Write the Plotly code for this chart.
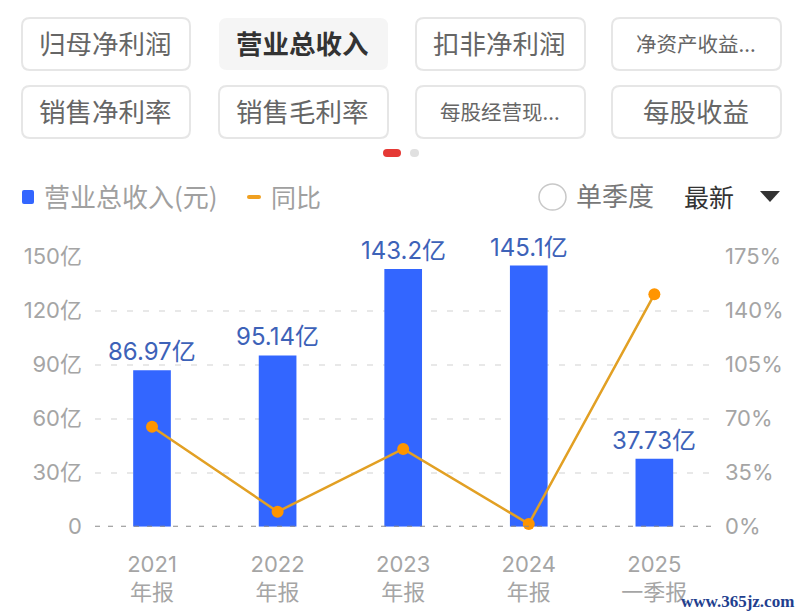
import plotly.graph_objects as pgo

# Data
years = ["2021", "2022", "2023", "2024", "2025"]
periods = ["年报", "年报", "年报", "年报", "一季报"]
revenue = [86.97, 95.14, 143.2, 145.1, 37.73]
revenue_labels = ["86.97亿", "95.14亿", "143.2亿", "145.1亿", "37.73亿"]
yoy = [64.8, 9.7, 50.4, 1.8, 150.6]
left_ticks = [0, 30, 60, 90, 120, 150]
left_labels = ["0", "30亿", "60亿", "90亿", "120亿", "150亿"]
right_ticks = [0, 35, 70, 105, 140, 175]
right_labels = ["0%", "35%", "70%", "105%", "140%", "175%"]

buttons_row1 = ["归母净利润", "营业总收入", "扣非净利润", "净资产收益..."]
buttons_row2 = ["销售净利率", "销售毛利率", "每股经营现...", "每股收益"]

W, H = 803, 616
FONT = "Inter, 'Noto Sans CJK SC', sans-serif"
CJK = "'Noto Sans CJK SC', sans-serif"


def px(x):
    return x / W


def py(y):
    return 1 - y / H


def round_rect(x0, y0, x1, y1, r, **kw):
    a0, a1, b0, b1 = px(x0), px(x1), py(y0), py(y1)
    rx, ry = r / W, r / H
    path = (f"M{a0 + rx},{b0} L{a1 - rx},{b0} Q{a1},{b0} {a1},{b0 - ry} "
            f"L{a1},{b1 + ry} Q{a1},{b1} {a1 - rx},{b1} "
            f"L{a0 + rx},{b1} Q{a0},{b1} {a0},{b1 + ry} "
            f"L{a0},{b0 - ry} Q{a0},{b0} {a0 + rx},{b0} Z")
    return dict(type="path", xref="paper", yref="paper", path=path, **kw)


def label(x, y, text, size, color, anchor="center", family=CJK, bold=False):
    if bold:
        text = f"<b>{text}</b>"
    return dict(xref="paper", yref="paper", x=px(x), y=py(y), text=text, showarrow=False,
                xanchor=anchor, yanchor="middle", font=dict(size=size, color=color, family=family))


fig = pgo.Figure()

fig.add_trace(pgo.Bar(x=years, y=revenue, width=0.3, marker=dict(color="#3366ff", line_width=0),
                      yaxis="y", hoverinfo="skip"))
fig.add_trace(pgo.Scatter(x=years, y=yoy, mode="lines+markers", yaxis="y2", cliponaxis=False,
                          line=dict(color="#e2a024", width=2.5),
                          marker=dict(color="#ff9500", size=12), hoverinfo="skip"))

shapes = []
annotations = []

# Top buttons
columns = [(22, 190), (219, 388), (416, 585), (612, 781)]
rows = [(18, 70, buttons_row1), (86, 138, buttons_row2)]
for y0, y1, names in rows:
    for (x0, x1), name in zip(columns, names):
        active = name == "营业总收入"
        if active:
            shapes.append(round_rect(x0, y0, x1, y1, 8, fillcolor="#f5f5f5", line=dict(width=0)))
        else:
            shapes.append(round_rect(x0, y0, x1, y1, 8, fillcolor="#ffffff",
                                     line=dict(color="#e6e6e6", width=2)))
        size = 20.5 if name.endswith("...") else 26.5
        annotations.append(label((x0 + x1) / 2 - 1, (y0 + y1) / 2 - 1.5, name, size,
                                 "#333333" if active else "#666666", bold=active))

# Pager dots
shapes.append(round_rect(383, 149, 401, 157, 4, fillcolor="#e53935", line=dict(width=0)))
shapes.append(round_rect(410, 149, 419, 157, 4, fillcolor="#e0e0e0", line=dict(width=0)))

# Legend row
shapes.append(round_rect(22, 190, 34, 204, 2, fillcolor="#3366ff", line=dict(width=0)))
annotations.append(label(42, 196, "营业总收入(元)", 26, "#a0a0a0", anchor="left"))
shapes.append(round_rect(247, 195, 261, 199, 2, fillcolor="#f0a020", line=dict(width=0)))
annotations.append(label(269, 196, "同比", 25, "#a0a0a0", anchor="left"))
shapes.append(dict(type="circle", xref="paper", yref="paper", x0=px(539), x1=px(566),
                   y0=py(184), y1=py(210), fillcolor="#ffffff", line=dict(color="#c8c8c8", width=1.5)))
annotations.append(label(574, 195, "单季度", 26, "#777777", anchor="left"))
annotations.append(label(682, 196, "最新", 25, "#333333", anchor="left"))
shapes.append(dict(type="path", xref="paper", yref="paper",
                   path=f"M{px(760)},{py(191)} L{px(780)},{py(191)} L{px(770)},{py(202)} Z",
                   fillcolor="#333333", line=dict(width=0)))

# Dashed baseline
shapes.append(dict(type="line", xref="paper", yref="y", x0=px(95), x1=px(712), y0=0, y1=0,
                   line=dict(color="#8a8a8a", width=2, dash="5px,8px"), layer="above"))

# Value labels above bars (category axes take the serial number in annotations)
for i, (value, text) in enumerate(zip(revenue, revenue_labels)):
    annotations.append(dict(x=i, y=value, xref="x", yref="y", text=text, showarrow=False,
                            xanchor="center", yanchor="bottom", yshift=2,
                            font=dict(size=24, color="#3d62b8", family=FONT)))

annotations.append(label(796, 601, "www.365jz.com", 17, "#1f3f8f", anchor="right",
                         family="'Liberation Serif', serif", bold=True))

fig.update_layout(
    width=W, height=H,
    margin=dict(l=0, r=0, t=0, b=0, autoexpand=False),
    paper_bgcolor="#ffffff",
    plot_bgcolor="#ffffff",
    showlegend=False,
    shapes=shapes,
    annotations=annotations,
    font=dict(family=FONT),
    xaxis=dict(type="category", domain=[px(95), px(712)], range=[-0.454, 4.459], showgrid=False,
               zeroline=False, showline=False, ticks="", ticklabelstandoff=22,
               tickmode="array", tickvals=years,
               ticktext=[f"{y}<br>{p}" for y, p in zip(years, periods)],
               tickfont=dict(size=22, color="#a5a5a5")),
    yaxis=dict(domain=[py(526.7), py(256.7)], range=[0, 150], tickvals=left_ticks, ticktext=left_labels,
               showgrid=True, gridcolor="#e8e8e8", griddash="6px,10px", gridwidth=2, zeroline=False,
               showline=False, ticks="", ticklabelstandoff=12, tickfont=dict(size=22, color="#a5a5a5")),
    yaxis2=dict(overlaying="y", side="right", anchor="x", range=[0, 175], tickvals=right_ticks,
                ticktext=right_labels, showgrid=False, zeroline=False, showline=False, ticks="",
                ticklabelstandoff=12, tickfont=dict(size=22, color="#a5a5a5")),
)

fig.write_html("out.html", config={"displayModeBar": False},
               post_script="document.body.style.margin='0';")
